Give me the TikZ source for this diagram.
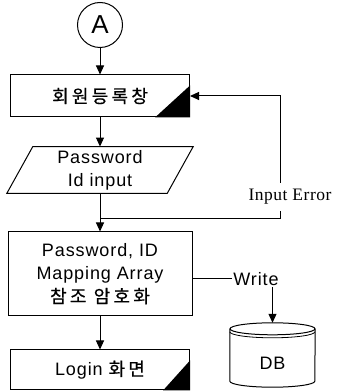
\documentclass[tikz,border=0pt]{standalone}
\usepackage{fontspec}
\setmainfont{Liberation Sans}[LetterSpace=5]
\newfontfamily\krfont{Noto Sans CJK KR}[LetterSpace=18, FakeBold=0.6]
\newfontfamily\errfont{Liberation Serif}[LetterSpace=3]
\usetikzlibrary{arrows.meta, positioning, calc}

\newcommand{\kr}[1]{{\krfont #1}}

\begin{document}
\begin{tikzpicture}[
			x=1pt, y=1pt,
			every node/.style={font=\fontsize{18}{23}\selectfont},
			win/.style={rectangle, draw, line width=1pt, minimum width=179pt, minimum height=42pt, align=center},
			proc/.style={rectangle, draw, line width=1pt, minimum width=184pt, minimum height=84pt, align=center},
			io/.style={rectangle, minimum width=160pt, minimum height=36pt, align=center},
			conn/.style={circle, draw, line width=1pt, minimum size=45pt, inner sep=0pt, font=\fontsize{26}{26}\selectfont},
			store/.style={rectangle, minimum width=85pt, minimum height=64pt, text height=29pt, text depth=0pt},
			arrow/.style={-{Triangle[length=9pt, width=8pt]}, line width=1pt},
			note/.style={fill=white, inner xsep=1pt, inner ysep=6pt, font=\fontsize{17.5}{20}\selectfont\errfont}
			]
			\useasboundingbox (0,0) rectangle (338,391);
			
			\node[conn] (a) at (100,366) {A};
			\node[win] (w1) at (100,295) {\kr{회원등록창}};
			\fill (w1.south east) -- ++(-35,0) -- ++(35,32) -- cycle;
			
			\node[io] (pw) at (100,221) {Password\\Id input};
			\draw[line width=1pt] ([xshift=13pt]pw.north west) -- ([xshift=13pt]pw.north east) -- ([xshift=-13pt]pw.south east) -- ([xshift=-13pt]pw.south west) -- cycle;
			
			\node[proc] (map) at (100,117) {Password, ID\\Mapping Array\\\kr{참조 암호화}};
			\node[win, minimum height=40pt] (w2) at (100,21) {Login \kr{화면}};
			\fill (w2.south east) -- ++(-27,0) -- ++(27,30) -- cycle;
			
			\node[inner sep=1pt] (wr) at (256,112) {Write};
			\node[store] (db) at (272.5,36) {DB};
			% cylinder
			\draw[line width=1pt] ([yshift=-6pt]db.north) ellipse [x radius=42.5pt, y radius=6pt];
			\draw[line width=0.8pt] ([yshift=-9pt]db.north west) arc[start angle=180, end angle=360, x radius=42.5pt, y radius=6pt];
			\draw[line width=1pt] ([yshift=-6pt]db.north west) -- ([yshift=6pt]db.south west) arc[start angle=180, end angle=360, x radius=42.5pt, y radius=6pt] -- ([yshift=-6pt]db.north east);
			
			\coordinate (j) at (100,172);
			\coordinate (r) at (280,172);
			
			\draw[arrow] (a) -- (w1);
			\draw[arrow] (w1) -- (pw);
			\draw[arrow] (pw) -- (map);
			\draw[arrow] (map) -- (w2);
			\draw[arrow] (j) -- (r) |- (w1.east);
			\node[note] (err) at (290,194) {Input Error};
			\draw[line width=1pt] (map.east |- wr.west) -- (wr.west);
			\draw[arrow] (wr.south -| db.north) -- (db.north);
		\end{tikzpicture}
\end{document}
